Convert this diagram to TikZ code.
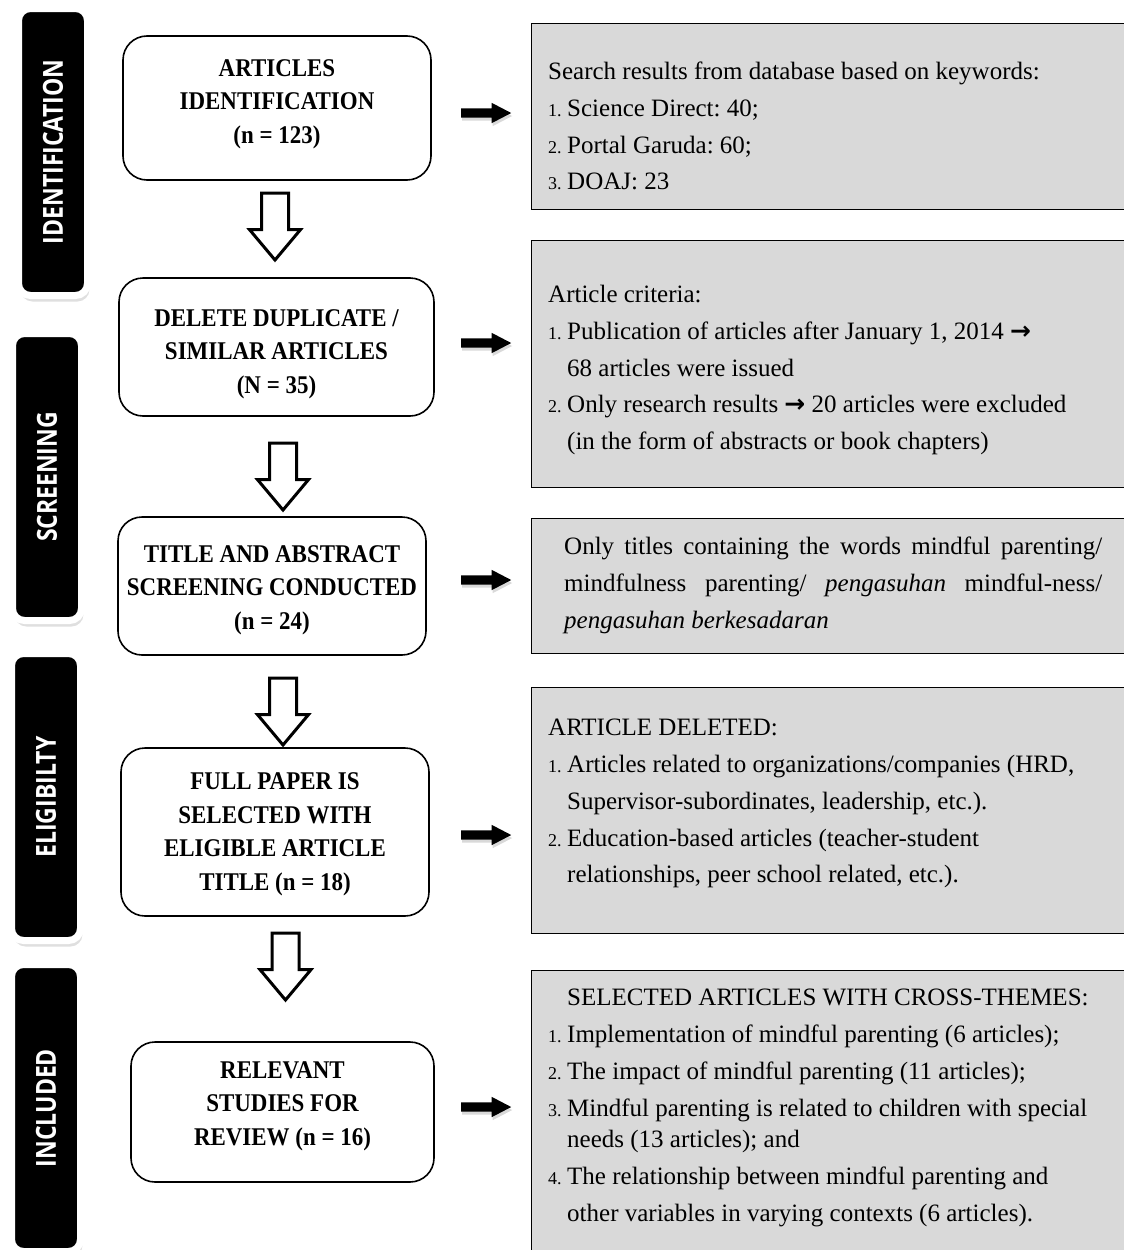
\documentclass[tikz,border=0pt]{standalone}
\usepackage{fontspec}
\usepackage{graphicx}
\setmainfont{Liberation Serif}
\newfontfamily\stagefont{Liberation Serif}[FakeStretch=0.9]
\newfontfamily\tabfont{Open Sans}
\newfontfamily\symfont{DejaVu Sans}
\usetikzlibrary{shapes.arrows,shadows}

\definecolor{infogray}{HTML}{D9D9D9}
\newcommand\nb[1]{\makebox[19pt][l]{\fontsize{18}{18}\selectfont #1}}
\newcommand\rarr{{\symfont\bfseries →}}
\newcommand\tablabel[1]{\rotatebox{90}{\scalebox{1}[1.2]{\tabfont\bfseries\fontsize{23}{23}\selectfont #1}}}
% invisible struts to nudge the text inside the step boxes
\newcommand\topgap[1]{\rule{0pt}{#1}}
\newcommand\botgap[1]{\rule[-#1]{0pt}{#1}}

\tikzset{
	tab/.style={fill=black, draw=white, line width=7pt, rounded corners=12pt, minimum width=69pt, minimum height=287pt, inner sep=0pt, text=white, drop shadow={shadow xshift=2pt, shadow yshift=-6pt, opacity=.25}},
	stage/.style={draw, line width=1.6pt, rounded corners=24pt, fill=white, align=center, inner sep=0pt, font=\stagefont\bfseries\fontsize{25.5}{33.5}\selectfont},
	info/.style={draw, line width=1.3pt, fill=infogray, anchor=north west, inner sep=0pt},
	infotext/.style={anchor=north west, inner sep=0pt, align=left, font=\fontsize{25}{36.7}\selectfont},
	downarrow/.style={single arrow, draw, line width=3pt, fill=white, rotate=-90, anchor=west, minimum height=67pt, inner xsep=0pt, inner ysep=12pt, single arrow head extend=12pt, single arrow tip angle=80},
	rightarrow/.style={single arrow, fill=black, anchor=west, minimum height=50pt, inner xsep=0pt, inner ysep=4.5pt, single arrow head extend=5.5pt, single arrow tip angle=55, drop shadow={shadow xshift=1pt, shadow yshift=-3pt, opacity=.3}}
}

\begin{document}
\frenchspacing
\begin{tikzpicture}[x=1pt,y=-1pt]

	\useasboundingbox (0,0) rectangle (1124,1250);

	% phase tabs
	\node[tab] (idn) at (53,152) {\tablabel{IDENTIFICATION}};
	\node[tab] (scr) at (47,477) {\tablabel{SCREENING}};
	\node[tab] (elg) at (46,797) {\tablabel{ELIGIBILTY}};
	\node[tab] (inc) at (46,1108) {\tablabel{INCLUDED}};

	% steps
	\node[stage, minimum width=308pt, minimum height=144pt] (s1) at (277,108) {ARTICLES\\IDENTIFICATION\\(n = 123)\botgap{13pt}};
	\node[stage, minimum width=315pt, minimum height=138pt] (s2) at (276.5,347) {\topgap{31pt}DELETE DUPLICATE /\\SIMILAR ARTICLES\\(N = 35)};
	\node[stage, minimum width=308pt, minimum height=138pt] (s3) at (272,586) {\topgap{25pt}TITLE AND ABSTRACT\\SCREENING CONDUCTED\\(n = 24)};
	\node[stage, minimum width=308pt, minimum height=168pt] (s4) at (275,832) {\topgap{21pt}FULL PAPER IS\\SELECTED WITH\\ELIGIBLE ARTICLE\\TITLE (n = 18)};
	\node[stage, minimum width=303pt, minimum height=140pt] (s5) at (282.5,1112) {RELEVANT\\STUDIES FOR\\REVIEW (n = 16)\botgap{17pt}};

	\foreach \x/\y/\n in {275/191.5/1, 283/441.5/2, 283/676.5/3, 285.5/931.5/4}
		\node[downarrow] (d\n) at (\x,\y) {};

	% notes
	\node[info, minimum width=600pt, minimum height=186pt] (r1) at (531,23) {};
	\node[info, minimum width=600pt, minimum height=247pt] (r2) at (531,240) {};
	\node[info, minimum width=600pt, minimum height=135pt] (r3) at (531,518) {};
	\node[info, minimum width=600pt, minimum height=246pt] (r4) at (531,687) {};
	\node[info, minimum width=600pt, minimum height=300pt] (r5) at (531,970) {};

	\foreach \y/\n in {113/1, 343/2, 580/3, 835/4, 1107/5}
		\node[rightarrow] (e\n) at (461,\y) {};

	\node[infotext] (r1txt) at ([shift={(17,31)}]r1.north west) {\strut Search results from database based on keywords:\\
		\nb{1.}Science Direct: 40;\\
		\nb{2.}Portal Garuda: 60;\\
		\nb{3.}DOAJ: 23};

	\node[infotext] (r2txt) at ([shift={(17,37)}]r2.north west) {\strut Article criteria:\\
		\nb{1.}Publication of articles after January 1, 2014 \rarr\\
		\hspace*{19pt}68 articles were issued\\
		\nb{2.}Only research results \rarr\ 20 articles were excluded\\
		\hspace*{19pt}(in the form of abstracts or book chapters)};

	\node[infotext, text width=538pt, align=justify] (r3txt) at ([shift={(33,11)}]r3.north west) {\hyphenpenalty=10000\strut Only titles containing the words mindful parenting/\linebreak
		mindfulness parenting/ \textit{pengasuhan} mindful-ness/\linebreak
		\textit{pengasuhan berkesadaran}};

	\node[infotext] (r4txt) at ([shift={(17,23)}]r4.north west) {\strut ARTICLE DELETED:\\
		\nb{1.}Articles related to organizations/companies (HRD,\\
		\hspace*{19pt}Supervisor-subordinates, leadership, etc.).\\
		\nb{2.}Education-based articles (teacher-student\\
		\hspace*{19pt}relationships, peer school related, etc.).};

	\node[infotext] (r5txt) at ([shift={(17,10)}]r5.north west) {\strut\hspace*{19pt}SELECTED ARTICLES WITH CROSS-THEMES:\\
		\nb{1.}Implementation of mindful parenting (6 articles);\\
		\nb{2.}The impact of mindful parenting (11 articles);\\
		\nb{3.}Mindful parenting is related to children with special\\[-5pt]
		\hspace*{19pt}needs (13 articles); and\\
		\nb{4.}The relationship between mindful parenting and\\
		\hspace*{19pt}other variables in varying contexts (6 articles).};

\end{tikzpicture}
\end{document}
